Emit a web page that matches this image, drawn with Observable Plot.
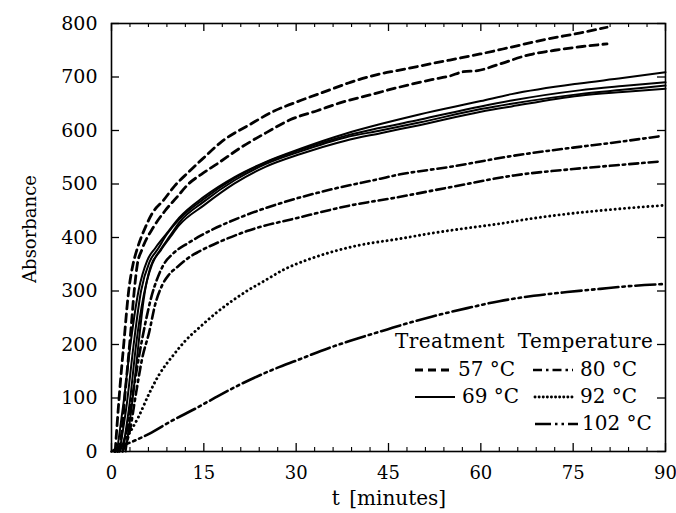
<!DOCTYPE html>
<html><head><meta charset="utf-8">
<script src="https://cdn.jsdelivr.net/npm/d3@7"></script>
<script src="https://cdn.jsdelivr.net/npm/@observablehq/plot@0.6"></script>
<style>body{margin:0;background:#fff;} #chart svg{display:block;}</style>
</head><body><div id="chart"></div>
<script>
// ---- data (t in minutes, absorbance) ----
const t57a = [0.6, 1.2, 2.0, 2.8, 3.5, 4.1, 5.5, 6.6, 8.4, 10.3, 12.5, 14.7, 18, 22.6, 26, 30.7, 35, 38.8, 43.7, 46.4, 52, 59.9, 65, 70.8, 76, 80.5];
const a57a = [0, 95, 202, 301, 350, 376, 419, 445, 469, 497, 522, 546, 580, 612, 634, 656, 674, 690, 706, 712, 725, 743, 756, 771, 782, 793];
const t57b = [1.0, 1.5, 2.3, 3.1, 3.7, 4.2, 4.9, 6.8, 8.7, 10.6, 12.5, 14.7, 17.2, 21, 25.3, 29, 33.4, 37.5, 41.5, 46.4, 52, 55, 57.2, 59.5, 63, 68, 72, 76.5, 80.5];
const a57b = [0, 21, 120, 220, 301, 350, 376, 419, 450, 475, 500, 519, 538, 568, 597, 620, 637, 653, 665, 680, 695, 702, 710, 712, 724, 742, 750, 757, 762];

const t69a = [0.9, 2.0, 3.1, 4.4, 5.8, 7.1, 9, 11, 15, 20, 25, 30.7, 38, 43.7, 50, 60, 65, 76, 83, 90];
const a69a = [0, 95, 202, 301, 357, 380, 408, 437, 476, 513, 541, 566, 594, 612, 630, 655, 668, 688, 698, 709];
const t69b = [1.3, 2.5, 3.6, 4.8, 6.2, 7.5, 9, 11, 15, 20, 25, 30.7, 38, 43.7, 50, 60, 65, 76, 83, 90];
const a69b = [0, 90, 200, 300, 355, 378, 406, 434, 472, 511, 540, 564, 590, 605, 620, 645, 656, 675, 683, 690];
const t69c = [1.8, 3.0, 4.0, 5.2, 6.6, 8, 9.5, 11, 15, 20, 25, 30.7, 38, 43.7, 50, 60, 65, 76, 83, 90];
const a69c = [0, 95, 200, 290, 350, 378, 403, 428, 467, 507, 537, 561, 587, 600, 615, 640, 650, 668, 676, 684];
const t69d = [2.3, 3.4, 4.4, 5.2, 6.3, 8, 9.5, 11, 15, 20, 25, 30.7, 38, 43.7, 50, 60, 65, 76, 83, 90];
const a69d = [0, 95, 202, 282, 344, 376, 400, 423, 460, 501, 532, 556, 581, 595, 610, 635, 645, 665, 672, 678];

const t80a = [1.3, 2.5, 3.5, 4.5, 5.5, 6.5, 7.5, 8.5, 10, 12.5, 14.1, 16.6, 21, 28, 36.1, 43.7, 46, 55, 65.4, 75, 82, 88.9];
const a80a = [0, 40, 110, 180, 240, 290, 325, 350, 370, 390, 401, 416, 438, 466, 491, 510, 516, 532, 553, 568, 578, 589];
const t80b = [1.8, 3.0, 4.0, 5.0, 6.1, 7.1, 8.2, 9.3, 10.7, 12.5, 14.1, 16.6, 22, 30.7, 38.8, 45.9, 55, 65.4, 75, 82, 89];
const a80b = [0, 40, 110, 175, 222, 275, 310, 330, 345, 362, 373, 387, 412, 438, 460, 474, 494, 516, 528, 535, 542];

const t92 = [0.5, 1.5, 2.2, 3.1, 4.4, 6.1, 7.7, 9.9, 12, 14.5, 17, 19.9, 22, 25, 28, 32, 36.1, 40, 47, 52, 58, 63.2, 68, 74, 80, 85, 89.7];
const a92 = [0, 10, 22, 38, 65, 108, 143, 178, 207, 234, 259, 284, 300, 320, 340, 359, 374, 385, 398, 408, 418, 426, 435, 444, 451, 456, 460];

const t102 = [0, 1.2, 3.9, 6.1, 9.9, 13.6, 16.9, 21.2, 26, 30.7, 34, 38.8, 43, 47, 52, 57.8, 63, 68.6, 74, 79.4, 84, 89.7];
const a102 = [0, 8, 21, 33, 58, 80, 101, 127, 152, 173, 188, 207, 222, 236, 252, 268, 281, 291, 298, 304, 309, 313];

const xTickLabels = [0, 15, 30, 45, 60, 75, 90];
const xMinorTicks = [3, 6, 9, 12, 18, 21, 24, 27, 33, 36, 39, 42, 48, 51, 54, 57, 63, 66, 69, 72, 78, 81, 84, 87];
const yTickLabels = [0, 100, 200, 300, 400, 500, 600, 700, 800];

const legendTitle = "Treatment Temperature";
const legendLabels = ["57 °C", "69 °C", "80 °C", "92 °C", "102 °C"];

// ---- build rows ----
function rows(ts, as, id) { return ts.map((t, i) => ({t, a: as[i], id})); }
const d57 = [...rows(t57a, a57a, "a"), ...rows(t57b, a57b, "b")];
const d69 = [...rows(t69a, a69a, "a"), ...rows(t69b, a69b, "b"), ...rows(t69c, a69c, "c"), ...rows(t69d, a69d, "d")];
const d80 = [...rows(t80a, a80a, "a"), ...rows(t80b, a80b, "b")];
const d92 = rows(t92, a92, "a");
const d102 = rows(t102, a102, "a");

const W = 676, H = 513, ML = 111, MR = 11, MT = 23, MB = 62;
const innerW = W - ML - MR, innerH = H - MT - MB;
const font = "'DejaVu Serif', 'Liberation Serif', serif";

const styles = {
  s57: {strokeDasharray: "8,5", strokeWidth: 2.8},
  s69: {strokeWidth: 2},
  s80: {strokeDasharray: "9,4,2.5,4", strokeWidth: 2.6},
  s92: {strokeDasharray: "0.1,4.6", strokeWidth: 2.9, strokeLinecap: "round"},
  s102: {strokeDasharray: "20,4,2.5,4,2.5,4", strokeWidth: 2.6}
};

const lineOpts = {x: "t", y: "a", z: "id", stroke: "black", curve: "monotone-x"};

const plot = Plot.plot({
  width: W, height: H,
  marginLeft: ML, marginRight: MR, marginTop: MT, marginBottom: MB,
  style: {fontFamily: font, fontSize: "19px", color: "black", background: "white"},
  x: {domain: [0, 90], axis: null},
  y: {domain: [0, 800], axis: null},
  marks: [
    Plot.line(d102, {...lineOpts, ...styles.s102}),
    Plot.line(d92, {...lineOpts, ...styles.s92}),
    Plot.line(d80, {...lineOpts, ...styles.s80}),
    Plot.line(d57, {...lineOpts, ...styles.s57}),
    Plot.line(d69, {...lineOpts, ...styles.s69}),
    Plot.frame({stroke: "black", strokeWidth: 1.6}),
    Plot.tickX(xTickLabels, {x: d => d, insetTop: innerH - 8, stroke: "black", strokeWidth: 1.3}),
    Plot.tickX(xTickLabels, {x: d => d, insetBottom: innerH - 8, stroke: "black", strokeWidth: 1.3}),
    Plot.tickX(xMinorTicks, {x: d => d, insetTop: innerH - 4, stroke: "black", strokeWidth: 1.1}),
    Plot.tickX(xMinorTicks, {x: d => d, insetBottom: innerH - 4, stroke: "black", strokeWidth: 1.1}),
    Plot.tickY(yTickLabels, {y: d => d, insetRight: innerW - 8, stroke: "black", strokeWidth: 1.3}),
    Plot.tickY(yTickLabels, {y: d => d, insetLeft: innerW - 8, stroke: "black", strokeWidth: 1.3}),
    Plot.axisX(xTickLabels, {tickSize: 0, tickPadding: 15, label: null, fontSize: 18}),
    Plot.axisY(yTickLabels, {tickSize: 0, tickPadding: 14, label: null, fontSize: 19})
  ]
});

document.getElementById("chart").appendChild(plot);

// ---- titles and legend ----
const svg = d3.select(plot);
svg.append("text").attr("x", ML + innerW / 2 + 1).attr("y", 505)
  .attr("text-anchor", "middle").attr("font-family", font).attr("font-size", 20)
  .attr("word-spacing", 3).attr("fill", "black").text("t [minutes]");
svg.append("text").attr("transform", `translate(36,229) rotate(-90)`)
  .attr("text-anchor", "middle").attr("font-family", font).attr("font-size", 18)
  .attr("fill", "black").text("Absorbance");

const lg = svg.append("g").attr("font-family", font).attr("font-size", 20)
  .attr("fill", "black").attr("text-anchor", "start");
lg.append("text").attr("x", 395).attr("y", 348).attr("text-anchor", "start")
  .attr("letter-spacing", 0.4).attr("word-spacing", 6).text(legendTitle);

const legendItems = [
  {label: legendLabels[0], st: styles.s57, x1: 415, x2: 449, lx: 458, ly: 376},
  {label: legendLabels[1], st: styles.s69, x1: 415, x2: 455, lx: 462, ly: 403},
  {label: legendLabels[2], st: {...styles.s80, strokeDasharray: "9,4,2.5,4"}, x1: 533, x2: 573, lx: 580, ly: 376},
  {label: legendLabels[3], st: {...styles.s92, strokeDasharray: "0.1,4"}, x1: 535, x2: 573, lx: 580, ly: 403},
  {label: legendLabels[4], st: {...styles.s102, strokeDasharray: "16,4,2.5,4,2.5,4"}, x1: 535, x2: 578, lx: 582, ly: 430}
];
for (const it of legendItems) {
  lg.append("line").attr("x1", it.x1).attr("x2", it.x2).attr("y1", it.ly - 6).attr("y2", it.ly - 6)
    .attr("stroke", "black").attr("stroke-width", it.st.strokeWidth)
    .attr("stroke-dasharray", it.st.strokeDasharray || null)
    .attr("stroke-linecap", it.st.strokeLinecap || "butt");
  lg.append("text").attr("x", it.lx).attr("y", it.ly).attr("text-anchor", "start").text(it.label);
}
</script></body></html>
